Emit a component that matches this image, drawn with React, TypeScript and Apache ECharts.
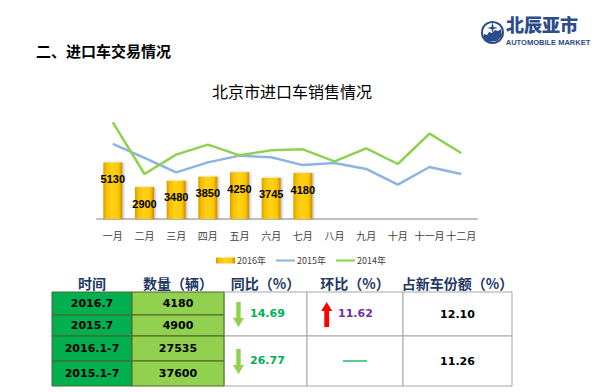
import React, { useEffect, useRef } from "react";
import * as echarts from "echarts";

const months = ["一月", "二月", "三月", "四月", "五月", "六月", "七月", "八月", "九月", "十月", "十一月", "十二月"];
const seriesNames = ["2016年", "2015年", "2014年"];
const sales2016 = [5130, 2900, 3480, 3850, 4250, 3745, 4180];
const sales2015 = [6820, 5550, 4240, 5150, 5760, 5610, 4900, 5090, 4550, 3120, 4730, 4090];
const sales2014 = [8790, 4090, 5850, 6760, 5790, 6240, 6330, 5240, 6420, 5000, 7760, 6000];

const tableHeaders = ["时间", "数量（辆）", "同比（%）", "环比（%）", "占新车份额（%）"];
const periods = ["2016.7", "2015.7", "2016.1-7", "2015.1-7"];
const volumes = ["4180", "4900", "27535", "37600"];
const yoyChange = ["14.69", "26.77"];
const momChange = ["11.62", ""];
const marketShare = ["12.10", "11.26"];

const CJK = '"Noto Sans CJK SC", sans-serif';

function buildTable(): any[] {
  const colX = [52, 132, 224, 307, 403, 512];
  const rowY = [292, 315, 336, 361, 386];
  const els: any[] = [];
  const numFont = 'bold 11px "DejaVu Sans", Verdana, sans-serif';
  tableHeaders.forEach((h, i) => {
    els.push({
      type: "text",
      x: (colX[i] + colX[i + 1]) / 2,
      y: 283,
      style: { text: h, fill: "#1F3864", font: `bold 14px ${CJK}`, textAlign: "center", textVerticalAlign: "middle" },
    });
  });
  for (let g = 0; g < 2; g++) {
    for (let c = 2; c < 5; c++) {
      els.push({
        type: "rect",
        shape: { x: colX[c], y: rowY[g * 2], width: colX[c + 1] - colX[c], height: rowY[g * 2 + 2] - rowY[g * 2] },
        style: { fill: "#FFFFFF", stroke: "#A6A6A6", lineWidth: 1 },
      });
    }
  }
  periods.forEach((p, r) => {
    els.push({
      type: "rect",
      shape: { x: colX[0], y: rowY[r], width: colX[1] - colX[0], height: rowY[r + 1] - rowY[r] },
      style: { fill: "#00B050", stroke: "#4F6228", lineWidth: 1 },
    });
    els.push({
      type: "rect",
      shape: { x: colX[1], y: rowY[r], width: colX[2] - colX[1], height: rowY[r + 1] - rowY[r] },
      style: { fill: "#92D050", stroke: "#4F6228", lineWidth: 1 },
    });
    const cy = (rowY[r] + rowY[r + 1]) / 2;
    els.push({
      type: "text",
      x: (colX[0] + colX[1]) / 2,
      y: cy,
      style: { text: p, fill: "#000", font: numFont, textAlign: "center", textVerticalAlign: "middle" },
    });
    els.push({
      type: "text",
      x: (colX[1] + colX[2]) / 2,
      y: cy,
      style: { text: volumes[r], fill: "#000", font: numFont, textAlign: "center", textVerticalAlign: "middle" },
    });
  });
  for (let g = 0; g < 2; g++) {
    const cy = (rowY[g * 2] + rowY[g * 2 + 2]) / 2;
    const ax = 238.5;
    els.push({
      type: "polygon",
      shape: {
        points: [
          [ax - 2.2, cy - 12],
          [ax + 2.2, cy - 12],
          [ax + 2.2, cy + 4],
          [ax + 5.5, cy + 4],
          [ax, cy + 13],
          [ax - 5.5, cy + 4],
          [ax - 2.2, cy + 4],
        ],
      },
      style: { fill: "#92D050" },
    });
    els.push({
      type: "text",
      x: 250,
      y: cy - 1,
      style: { text: yoyChange[g], fill: "#00B050", font: numFont, textAlign: "left", textVerticalAlign: "middle" },
    });
    if (momChange[g]) {
      const rx = 326.7;
      els.push({
        type: "polygon",
        shape: {
          points: [
            [rx, cy - 12],
            [rx + 5.5, cy - 3],
            [rx + 2.4, cy - 3],
            [rx + 2.4, cy + 13],
            [rx - 2.4, cy + 13],
            [rx - 2.4, cy - 3],
            [rx - 5.5, cy - 3],
          ],
        },
        style: { fill: "#FF0000" },
      });
      els.push({
        type: "text",
        x: 338,
        y: cy - 1,
        style: { text: momChange[g], fill: "#7030A0", font: numFont, textAlign: "left", textVerticalAlign: "middle" },
      });
    } else {
      els.push({
        type: "line",
        shape: { x1: 343, y1: cy, x2: 367, y2: cy },
        style: { stroke: "#00B050", lineWidth: 1.3 },
      });
    }
    els.push({
      type: "text",
      x: (colX[4] + colX[5]) / 2,
      y: cy,
      style: { text: marketShare[g], fill: "#000", font: numFont, textAlign: "center", textVerticalAlign: "middle" },
    });
  }
  return els;
}

function buildLogo(): any[] {
  const c = "#2D4C8C";
  return [
    { type: "circle", shape: { cx: 492.5, cy: 32.5, r: 10.5 }, style: { fill: "none", stroke: c, lineWidth: 2 } },
    {
      type: "polygon",
      shape: { points: [[483, 38], [484, 34], [487, 35], [489, 32], [492, 33], [495, 30], [498, 31], [501, 29], [502, 36], [497, 41], [488, 42]] },
      style: { fill: c },
    },
    { type: "polygon", shape: { points: [[492.5, 22], [493.6, 27], [498, 28], [493.6, 29], [492.5, 33], [491.4, 29], [487, 28], [491.4, 27]] }, style: { fill: c } },
    { type: "text", x: 506, y: 24, style: { text: "北辰亚市", fill: c, font: `900 18px ${CJK}`, textAlign: "left", textVerticalAlign: "middle" } },
    { type: "text", x: 548, y: 42, style: { text: "AUTOMOBILE MARKET", fill: c, font: 'bold 7.5px "Liberation Sans Narrow", "Liberation Sans", sans-serif', textAlign: "center", textVerticalAlign: "middle" } },
  ];
}

export default function App() {
  const ref = useRef<HTMLDivElement>(null);
  useEffect(() => {
    document.body.style.margin = "0";
    if (!ref.current) return;
    const chart = echarts.init(ref.current, null, { renderer: "svg" });
    const barGradient = new echarts.graphic.LinearGradient(0, 0, 1, 0, [
      { offset: 0, color: "#D99A00" },
      { offset: 0.15, color: "#F5BE00" },
      { offset: 0.45, color: "#FFD21A" },
      { offset: 0.8, color: "#FFC800" },
      { offset: 1, color: "#C98A00" },
    ]);
    const lineIcon = "path://M0,0 L20,0 L20,2.2 L0,2.2 Z";
    chart.setOption({
      animation: false,
      backgroundColor: "#FFFFFF",
      title: {
        text: "北京市进口车销售情况",
        left: 287,
        top: 78,
        textAlign: "center",
        textStyle: { fontFamily: CJK, fontSize: 16, fontWeight: "normal", color: "#000" },
      },
      legend: {
        left: 211,
        top: 251,
        itemWidth: 19,
        itemHeight: 6,
        itemGap: 10,
        textStyle: { fontSize: 9, color: "#404040", fontFamily: CJK, padding: [0, 0, 0, -3] },
        data: [
          { name: seriesNames[0], icon: "rect" },
          { name: seriesNames[1], icon: lineIcon, itemHeight: 2 },
          { name: seriesNames[2], icon: lineIcon, itemHeight: 2 },
        ],
      },
      grid: { left: 97, right: 123, top: 109, bottom: 173 },
      xAxis: {
        type: "category",
        data: months,
        axisLine: { lineStyle: { color: "#BFBFBF", width: 2 } },
        axisTick: { show: false },
        axisLabel: { color: "#404040", fontSize: 10, fontFamily: CJK, margin: 11, interval: 0 },
      },
      yAxis: { type: "value", min: 0, max: 10000, show: false, splitLine: { show: false } },
      series: [
        {
          name: seriesNames[0],
          type: "bar",
          data: sales2016,
          barWidth: 19,
          itemStyle: { color: barGradient, shadowColor: "rgba(0,0,0,0.25)", shadowOffsetX: 1.5, shadowBlur: 2 },
          label: {
            show: true,
            position: "insideTop",
            distance: 11,
            color: "#000",
            fontSize: 11,
            fontWeight: "bold",
            fontFamily: '"Liberation Sans", Arial, sans-serif',
          },
          z: 2,
        },
        {
          name: seriesNames[1],
          type: "line",
          data: sales2015,
          symbol: "none",
          lineStyle: { color: "#8DB3E2", width: 2.5 },
          itemStyle: { color: "#8DB3E2" },
          z: 3,
        },
        {
          name: seriesNames[2],
          type: "line",
          data: sales2014,
          symbol: "none",
          lineStyle: { color: "#8FD14F", width: 2.5 },
          itemStyle: { color: "#8FD14F" },
          z: 4,
        },
      ],
      graphic: [
        {
          type: "text",
          x: 36,
          y: 50,
          style: { text: "二、进口车交易情况", fill: "#000", font: `bold 15px ${CJK}`, textAlign: "left", textVerticalAlign: "middle" },
        },
        ...buildLogo(),
        ...buildTable(),
      ],
    });
    return () => chart.dispose();
  }, []);
  return <div ref={ref} style={{ width: 600, height: 392 }} />;
}
